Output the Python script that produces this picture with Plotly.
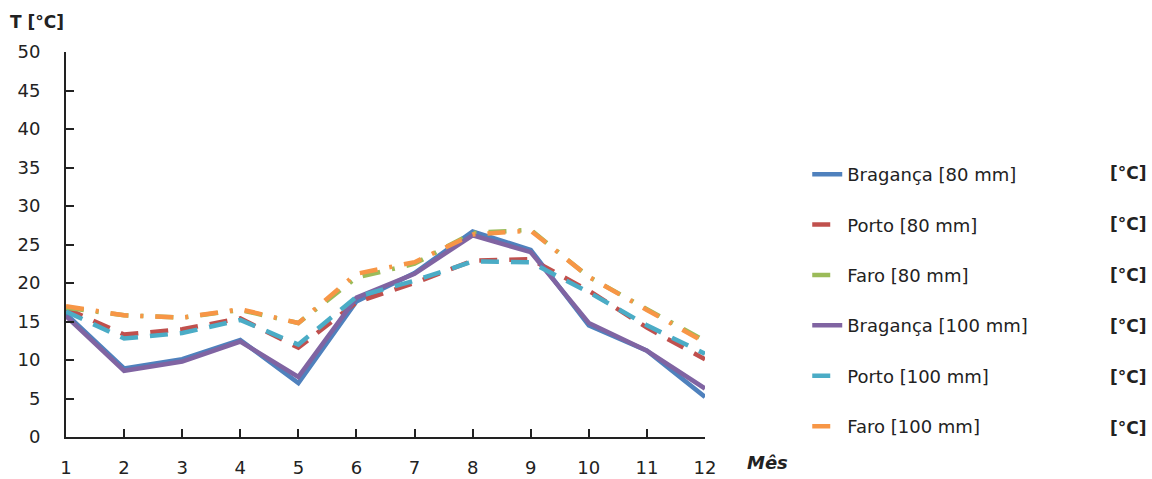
import plotly.graph_objects as go

months = list(range(1, 13))
month_labels = [str(m) for m in months]

braganca_80 = [16.0, 8.9, 10.1, 12.6, 7.0, 17.6, 21.3, 26.7, 24.3, 14.5, 11.2, 5.2]
porto_80 = [16.7, 13.3, 14.0, 15.4, 11.6, 17.5, 20.0, 22.9, 23.1, 19.0, 14.2, 10.1]
faro_80 = [16.8, 15.8, 15.5, 16.5, 14.8, 20.7, 22.5, 26.5, 26.9, 20.8, 16.6, 12.5]
braganca_100 = [15.7, 8.6, 9.8, 12.4, 7.8, 18.1, 21.2, 26.2, 24.0, 14.8, 11.2, 6.3]
porto_100 = [16.3, 12.8, 13.5, 15.2, 12.0, 18.2, 20.3, 22.8, 22.7, 18.8, 14.5, 10.8]
faro_100 = [17.0, 15.8, 15.5, 16.6, 14.8, 21.2, 22.7, 26.3, 26.8, 20.8, 16.5, 12.3]

series = [
    ("Bragança [80 mm]", braganca_80, "#4F81BD", "solid"),
    ("Porto [80 mm]", porto_80, "#C0504D", "18px,12px"),
    ("Faro [80 mm]", faro_80, "#9BBB59", "18px,12px,3px,12px"),
    ("Bragança [100 mm]", braganca_100, "#8064A2", "solid"),
    ("Porto [100 mm]", porto_100, "#4BACC6", "18px,12px"),
    ("Faro [100 mm]", faro_100, "#F79646", "18px,12px,3px,12px"),
]

FONT = "DejaVu Sans"
TXT = "#222222"
fig = go.Figure()
for i, (name, vals, color, dash) in enumerate(series):
    fig.add_trace(go.Scatter(
        x=months, y=vals, name=name, mode="lines",
        line=dict(color=color, width=4.5, dash=dash),
        legendgroup=f"g{i}",
    ))

fig.update_layout(
    width=1152, height=479,
    margin=dict(l=66, r=447, t=52, b=42, autoexpand=False),
    paper_bgcolor="white", plot_bgcolor="white",
    font=dict(family=FONT, size=17, color=TXT),
    showlegend=True,
    legend=dict(
        x=1.16, xanchor="left", y=0.73, yanchor="top",
        traceorder="grouped", tracegroupgap=24,
        font=dict(family=FONT, size=18, color=TXT),
        bgcolor="rgba(0,0,0,0)", borderwidth=0,
    ),
    xaxis=dict(
        range=[1, 12], tickmode="array", tickvals=months, ticktext=month_labels,
        showgrid=False, zeroline=False, showline=True, linecolor=TXT, linewidth=2,
        ticks="inside", ticklen=8, tickcolor=TXT, tickwidth=1.5,
        ticklabelstandoff=13, automargin=False,
        tickfont=dict(family=FONT, size=18, color=TXT),
    ),
    yaxis=dict(
        range=[0, 50], dtick=5, showgrid=False, zeroline=False,
        showline=True, linecolor=TXT, linewidth=2,
        ticks="inside", ticklen=8, tickcolor=TXT, tickwidth=1.5,
        ticklabelstandoff=20, automargin=False,
        tickfont=dict(family=FONT, size=18, color=TXT),
    ),
)

fig.add_annotation(text="<b>T [°C]</b>", xref="paper", yref="paper", x=-0.09, y=1.078,
                   xanchor="left", yanchor="middle", showarrow=False,
                   font=dict(family=FONT, size=17, color=TXT))
fig.add_annotation(text="<b><i>Mês</i></b>", xref="paper", yref="paper", x=1.062, y=-0.065,
                   xanchor="left", yanchor="middle", showarrow=False,
                   font=dict(family=FONT, size=18, color=TXT))

for k in range(6):
    fig.add_annotation(text="<b>[°C]</b>", xref="paper", yref="paper",
                       x=1.63, y=(437 - (173 + k * 51)) / 385,
                       xanchor="left", yanchor="middle", showarrow=False,
                       font=dict(family=FONT, size=17, color=TXT))

fig.write_html("out.html")
